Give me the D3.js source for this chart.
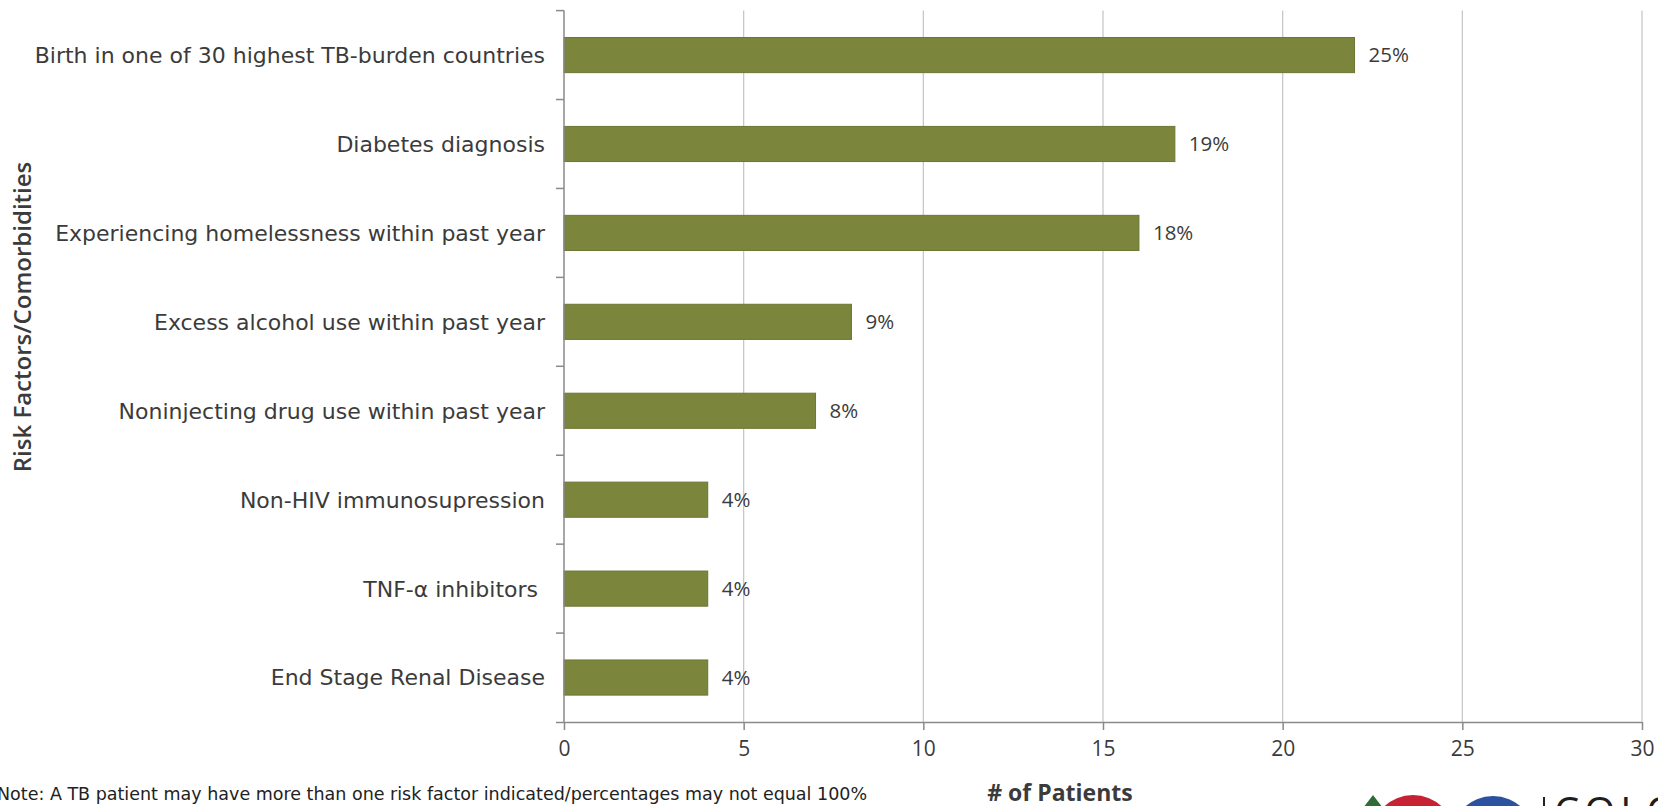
<!DOCTYPE html>
<html>
<head>
<meta charset="utf-8">
<script src="https://cdn.jsdelivr.net/npm/d3@7"></script>
<style>
  html, body { margin: 0; padding: 0; background: #ffffff; overflow: hidden; }
  svg { display: block; }
</style>
</head>
<body>
<svg id="chart" width="1658" height="806"></svg>
<script>
// Risk factors / comorbidities among TB patients
const categories = [
  "Birth in one of 30 highest TB-burden countries",
  "Diabetes diagnosis",
  "Experiencing homelessness within past year",
  "Excess alcohol use within past year",
  "Noninjecting drug use within past year",
  "Non-HIV immunosupression",
  "TNF-\u03b1 inhibitors ",
  "End Stage Renal Disease"
];
const patients = [22, 17, 16, 8, 7, 4, 4, 4];
const percentLabels = ["25%", "19%", "18%", "9%", "8%", "4%", "4%", "4%"];
const xTicks = [0, 5, 10, 15, 20, 25, 30];
const xTitle = "# of Patients";
const yTitle = "Risk Factors/Comorbidities";
const note = "Note: A TB patient may have more than one risk factor indicated/percentages may not equal 100%";

const svg = d3.select("#chart");
const plot = { left: 564, right: 1642, top: 10.6, bottom: 722 };

const labelFont = "'DejaVu Sans', sans-serif";
const numFont = "'Open Sans', 'Noto Sans', sans-serif";
const textColor = "#3b3b3b";
const axisColor = "#8a8a8a";
const gridColor = "#c4c4c4";
const barFill = "#7b853c";
const barStroke = "#6c7634";

const x = d3.scaleLinear().domain([0, 30]).range([plot.left, plot.right]);
const y = d3.scaleBand().domain(categories).range([plot.top, plot.bottom])
  .paddingInner(0.605).paddingOuter(0.3025);

// vertical gridlines
svg.append("g").selectAll("line").data(xTicks.filter(d => d > 0)).join("line")
  .attr("x1", d => x(d)).attr("x2", d => x(d))
  .attr("y1", plot.top).attr("y2", plot.bottom)
  .attr("stroke", gridColor).attr("stroke-width", 1.2);

// bars
svg.append("g").selectAll("rect").data(categories).join("rect")
  .attr("x", x(0))
  .attr("y", d => y(d))
  .attr("width", (d, i) => x(patients[i]) - x(0))
  .attr("height", y.bandwidth())
  .attr("fill", barFill)
  .attr("stroke", barStroke).attr("stroke-width", 1);

// bar value labels
svg.append("g").selectAll("text").data(categories).join("text")
  .attr("x", (d, i) => x(patients[i]) + 14)
  .attr("y", d => y(d) + y.bandwidth() / 2)
  .attr("dy", "0.36em")
  .attr("font-family", numFont).attr("font-size", 20.5)
  .attr("fill", textColor)
  .text((d, i) => percentLabels[i]);

// x axis
const xAxis = d3.axisBottom(x).tickValues(xTicks).tickSize(8).tickPadding(11);
const gx = svg.append("g").attr("transform", `translate(0,${plot.bottom})`).call(xAxis);
gx.select(".domain").attr("d", `M${plot.left - 8},0.5H${plot.right}`).attr("stroke", axisColor).attr("stroke-width", 1.5);
gx.selectAll(".tick line").attr("stroke", axisColor).attr("stroke-width", 1.5);
gx.selectAll(".tick text").attr("font-family", numFont).attr("font-size", 21).attr("fill", textColor);

// y axis: line plus ticks on band boundaries
const gy = svg.append("g");
gy.append("line")
  .attr("x1", plot.left).attr("x2", plot.left)
  .attr("y1", plot.top).attr("y2", plot.bottom)
  .attr("stroke", axisColor).attr("stroke-width", 1.5);
const boundaries = categories.map(d => y(d) - y.step() * y.paddingInner() / 2);
gy.selectAll("line.tk").data(boundaries).join("line").attr("class", "tk")
  .attr("x1", plot.left - 8).attr("x2", plot.left)
  .attr("y1", d => d).attr("y2", d => d)
  .attr("stroke", axisColor).attr("stroke-width", 1.5);

// category labels
gy.selectAll("text").data(categories).join("text")
  .attr("x", plot.left - 19)
  .attr("y", d => y(d) + y.bandwidth() / 2)
  .attr("dy", "0.36em")
  .attr("text-anchor", "end")
  .attr("font-family", labelFont).attr("font-size", 22)
  .attr("fill", textColor)
  .style("white-space", "pre")
  .text(d => d);

// axis titles
svg.append("text")
  .attr("transform", `translate(31,${317}) rotate(-90)`)
  .attr("text-anchor", "middle")
  .attr("font-family", numFont).attr("font-weight", 600).attr("font-size", 24)
  .attr("fill", textColor)
  .text(yTitle);

svg.append("text")
  .attr("x", 1060).attr("y", 801)
  .attr("text-anchor", "middle")
  .attr("font-family", numFont).attr("font-weight", 700).attr("font-size", 23)
  .attr("fill", textColor)
  .text(xTitle);

// footnote
svg.append("text")
  .attr("x", -3).attr("y", 800)
  .attr("font-family", labelFont).attr("font-size", 17.5)
  .attr("fill", "#222")
  .text(note);

// logo strip, bottom right
const logo = svg.append("g");
logo.append("path").attr("d", "M1373,795 L1386,812 L1360,812 Z").attr("fill", "#2f6b37");
logo.append("circle").attr("cx", 1413).attr("cy", 837).attr("r", 42).attr("fill", "#c62233");
logo.append("circle").attr("cx", 1493).attr("cy", 838).attr("r", 42).attr("fill", "#2c519f");
logo.append("line").attr("x1", 1544).attr("x2", 1544).attr("y1", 797).attr("y2", 806)
  .attr("stroke", "#222").attr("stroke-width", 2);
logo.append("text").attr("x", 1554).attr("y", 826)
  .attr("font-family", "'Open Sans', sans-serif").attr("font-size", 40)
  .attr("letter-spacing", 5).attr("fill", "#1e1e1e")
  .text("COLORADO");
</script>
</body>
</html>
